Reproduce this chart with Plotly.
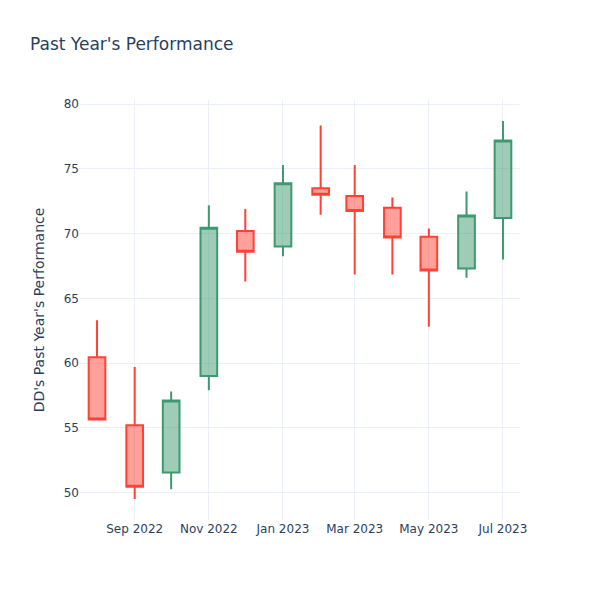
import plotly.graph_objects as go

dates = ["2022-08-01", "2022-09-01", "2022-10-01", "2022-11-01", "2022-12-01", "2023-01-01",
         "2023-02-01", "2023-03-01", "2023-04-01", "2023-05-01", "2023-06-01", "2023-07-01"]
open_ = [60.45, 55.2, 51.55, 59.0, 70.2, 69.0, 73.5, 72.9, 72.0, 69.75, 67.3, 71.2]
high = [63.3, 59.7, 57.8, 72.2, 71.9, 75.3, 78.35, 75.3, 72.8, 70.4, 73.25, 78.7]
low = [55.6, 49.5, 50.25, 57.9, 66.3, 68.25, 71.45, 66.85, 66.85, 62.8, 66.6, 68.0]
close = [55.65, 50.45, 57.1, 70.45, 68.6, 73.9, 73.0, 71.75, 69.7, 67.15, 71.4, 77.2]

fig = go.Figure(go.Candlestick(x=dates, open=open_, high=high, low=low, close=close))
fig.update_layout(
    template="plotly_white",
    font_family="DejaVu Sans",
    title=dict(text="Past Year's Performance", x=22/600, y=1 - 36/600, yanchor="middle"),
    yaxis_title="DD's Past Year's Performance",
    xaxis_rangeslider_visible=False,
    width=600, height=600,
    margin=dict(l=72, r=88, t=92, b=88),
)
fig.write_html("out.html")
